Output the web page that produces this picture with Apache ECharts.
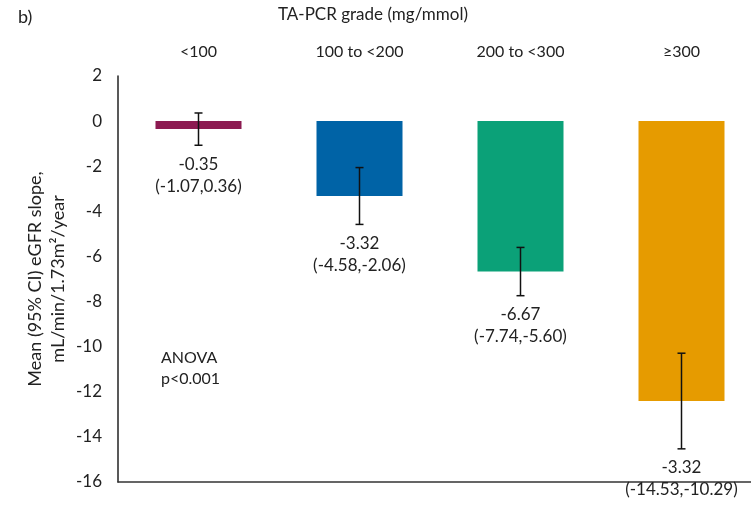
<!DOCTYPE html>
<html>
<head>
<meta charset="utf-8">
<script src="https://cdn.jsdelivr.net/npm/echarts@6/dist/echarts.min.js"></script>
<style>html,body{margin:0;padding:0;background:#fff}#c{width:751px;height:507px}</style>
</head>
<body>
<div id="c"></div>
<script>
const categories = ['<100', '100 to <200', '200 to <300', '≥300'];
const means = [-0.35, -3.32, -6.67, -12.41];
const ciLow = [-1.07, -4.58, -7.74, -14.53];
const ciHigh = [0.36, -2.06, -5.60, -10.29];
const meanLabels = ['-0.35', '-3.32', '-6.67', '-3.32'];
const ciLabels = ['(-1.07,0.36)', '(-4.58,-2.06)', '(-7.74,-5.60)', '(-14.53,-10.29)'];
const barColors = ['#8C1A51', '#0063A6', '#0BA178', '#E69B00'];
const yTicks = { min: -16, max: 2, interval: 2 };

const FONT = 'Lato, "Open Sans", sans-serif';
const chart = echarts.init(document.getElementById('c'), null, { renderer: 'canvas' });

const errData = categories.map((c, i) => [i, ciLow[i], ciHigh[i], meanLabels[i], ciLabels[i]]);

chart.setOption({
  animation: false,
  backgroundColor: '#fff',
  textStyle: { fontFamily: FONT },
  grid: { left: 118, top: 76, width: 644, height: 406, outerBoundsMode: 'none', containLabel: false },
  graphic: [
    { type: 'text', left: 18, top: 8, style: { text: 'b)', font: '18px ' + FONT, fill: '#222' } },
    { type: 'text', x: 373, y: 15, style: { text: 'TA-PCR grade (mg/mmol)', font: '17px ' + FONT, fill: '#222', textAlign: 'center', textVerticalAlign: 'middle' } },
    { type: 'text', x: 47, y: 279, rotation: Math.PI / 2, style: { text: 'Mean (95% CI) eGFR slope,\nmL/min/1.73m²/year', font: '18px ' + FONT, lineHeight: 23, fill: '#222', textAlign: 'center', textVerticalAlign: 'middle' } },
    { type: 'text', left: 161, top: 347, style: { text: 'ANOVA\np<0.001', font: '16px ' + FONT, lineHeight: 21, fill: '#222' } }
  ],
  xAxis: [
    {
      type: 'category', data: categories, position: 'top',
      axisLine: { show: false }, axisTick: { show: false },
      axisLabel: { fontSize: 16, color: '#222', margin: 16, fontFamily: FONT }
    },
    {
      type: 'category', data: categories, position: 'bottom',
      axisLine: { show: true, onZero: true, lineStyle: { color: '#333', width: 1.5 } },
      axisTick: { show: false }, axisLabel: { show: false }
    }
  ],
  yAxis: {
    type: 'value', min: yTicks.min, max: yTicks.max, interval: yTicks.interval,
    axisLine: { show: true, lineStyle: { color: '#222', width: 1.5 } },
    axisTick: { show: false },
    splitLine: { show: false },
    axisLabel: { fontSize: 17, color: '#222', margin: 16, fontFamily: FONT }
  },
  series: [
    {
      type: 'bar', xAxisIndex: 1, barWidth: 86,
      data: means.map((v, i) => ({ value: v, itemStyle: { color: barColors[i] } }))
    },
    {
      type: 'custom', xAxisIndex: 1, clip: false, z: 10,
      data: errData,
      renderItem: function (params, api) {
        const x = api.coord([api.value(0), 0])[0];
        const lo = api.coord([api.value(0), api.value(1)])[1];
        const hi = api.coord([api.value(0), api.value(2)])[1];
        const cap = 4;
        const ls = { stroke: '#111', lineWidth: 1.5 };
        return {
          type: 'group',
          children: [
            { type: 'line', shape: { x1: x, y1: lo, x2: x, y2: hi }, style: ls },
            { type: 'line', shape: { x1: x - cap, y1: lo, x2: x + cap, y2: lo }, style: ls },
            { type: 'line', shape: { x1: x - cap, y1: hi, x2: x + cap, y2: hi }, style: ls },
            { type: 'text', x: x, y: lo + 8, style: {
                text: api.value(3) + '\n' + api.value(4),
                font: '17px ' + FONT, lineHeight: 22, fill: '#222',
                textAlign: 'center', textVerticalAlign: 'top' } }
          ]
        };
      }
    }
  ]
});
</script>
</body>
</html>
